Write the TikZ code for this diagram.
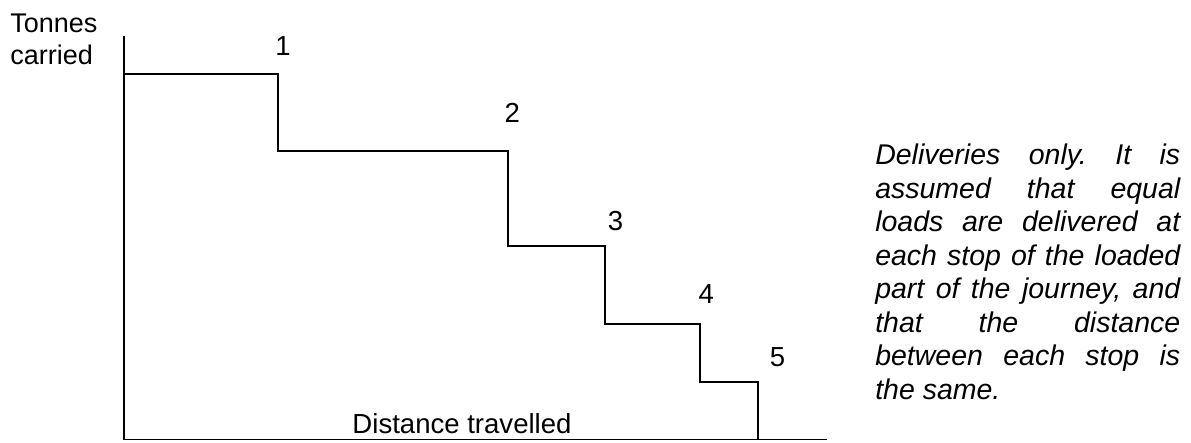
\documentclass[tikz,border=0pt]{standalone}
\usepackage{fontspec}
\setmainfont{Liberation Sans}
\frenchspacing
\begin{document}
\begin{tikzpicture}[scale=1]
    \useasboundingbox (0,0) rectangle (29.775,11.05);

    % Coordinates for the axes
    \coordinate (o) at (3.1,0.06);
    \coordinate (ytop) at (3.1,10.15);
    \coordinate (xend) at (20.675,0.06);

    % Coordinates for the steps
    \coordinate (a) at (3.1,9.2);
    \coordinate (b) at (6.95,9.2);
    \coordinate (c) at (6.95,7.275);
    \coordinate (d) at (12.7,7.275);
    \coordinate (e) at (12.7,4.9);
    \coordinate (f) at (15.125,4.9);
    \coordinate (g) at (15.125,2.95);
    \coordinate (h) at (17.5,2.95);
    \coordinate (i) at (17.5,1.5);
    \coordinate (j) at (18.95,1.5);
    \coordinate (k) at (18.95,0.06);

    % Axes
    \draw[line width=1.2pt] (ytop)--(o)--(xend);

    % Steps
    \draw[line width=1pt] (a)--(b)--(c)--(d)--(e)--(f)--(g)--(h)--(i)--(j)--(k);

    % Axis labels
    \node[anchor=north west, align=left, inner sep=0pt, font=\fontsize{19.2}{22.76}\selectfont] (ylab) at (0.25,10.7) {Tonnes\\carried};
    \node[anchor=base, inner sep=0pt, font=\fontsize{19.6}{23}\selectfont] (xlab) at (11.55,0.225) {Distance travelled};

    % Stop numbers
    \foreach \n/\x/\y in {1/7.075/9.91, 2/12.81/8.225, 3/15.39/5.525, 4/17.66/3.71, 5/19.44/2.125}
        \node[inner sep=0pt, font=\fontsize{19.6}{23}\selectfont] (stop\n) at (\x,\y) {\n};

    % Note
    \node[anchor=north west, inner sep=0pt, text width=7.625cm, align=justify, font=\fontsize{20.27}{23.83}\selectfont\itshape] (note) at (21.875,7.46)
        {Deliveries only. It is\linebreak assumed that equal\linebreak loads are delivered at\linebreak each stop of the loaded\linebreak part of the journey, and\linebreak that the distance\linebreak between each stop is\linebreak the same.};
\end{tikzpicture}
\end{document}
